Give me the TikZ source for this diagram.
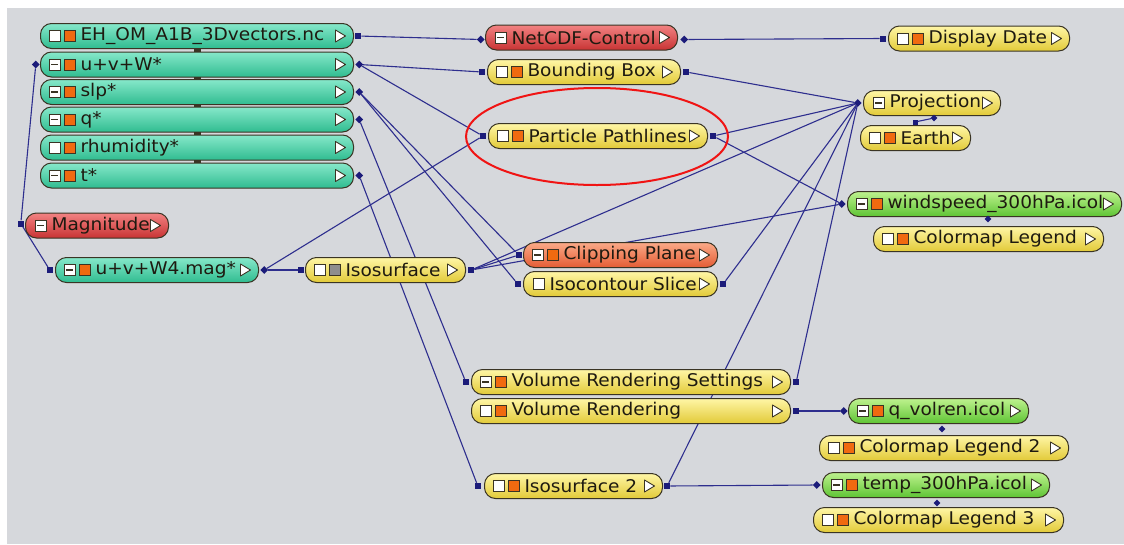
\documentclass[tikz,border=0pt]{standalone}
\usepackage{fontspec}
\newfontfamily\uifont[FakeStretch=1.06]{DejaVu Sans}
\usetikzlibrary{positioning, shapes.geometric, backgrounds}
\definecolor{canvas}{HTML}{D6D8DC}
\definecolor{wire}{HTML}{2E2E8E}
\definecolor{portblue}{HTML}{1C1C7A}
\definecolor{rim}{HTML}{3A3424}
\definecolor{inkdark}{HTML}{1E1A10}
\definecolor{iconorange}{HTML}{F06A10}
\definecolor{icongray}{HTML}{8E8E8E}
\definecolor{tealtop}{HTML}{86E8CA}
\definecolor{tealbot}{HTML}{30BC90}
\definecolor{yeltop}{HTML}{FFF6A6}
\definecolor{yelbot}{HTML}{E2CA38}
\definecolor{redtop}{HTML}{F28282}
\definecolor{redbot}{HTML}{C83434}
\definecolor{clptop}{HTML}{FAAA88}
\definecolor{clpbot}{HTML}{E45C34}
\definecolor{grntop}{HTML}{BEF28E}
\definecolor{grnbot}{HTML}{5EC434}
\definecolor{ringred}{HTML}{F01414}

% small glyphs drawn inside a module box
\newcommand{\sqicon}[2]{\draw[sharp corners, fill=#2, draw=rim, line width=0.9pt]
  ([xshift=#1pt]path picture bounding box.west) ++(-5.5,-5.5) rectangle ++(11,11);}
\newcommand{\minusicon}[1]{\sqicon{#1}{white}
  \draw[sharp corners, rim, line width=1.2pt] ([xshift=#1pt]path picture bounding box.west) ++(-3.5,0) -- ++(7,0);}
\newcommand{\playicon}{\draw[sharp corners, fill=white, draw=rim, line width=0.9pt, line join=round]
  ([xshift=-18pt]path picture bounding box.east) ++(0,-6) -- ++(10,6) -- ++(-10,6) -- cycle;}

\begin{document}
\begin{tikzpicture}[
    x=1pt, y=-1pt,
    box/.style={rectangle, rounded corners=11pt, draw=rim, line width=1pt, anchor=west,
                minimum height=25pt, inner xsep=0pt, inner ysep=0pt, align=left,
                text=inkdark, font=\uifont\fontsize{17.5}{20}\selectfont},
    tealbox/.style={box, top color=tealtop, bottom color=tealbot},
    yelbox/.style={box, top color=yeltop, bottom color=yelbot},
    redbox/.style={box, top color=redtop, bottom color=redbot},
    clpbox/.style={box, top color=clptop, bottom color=clpbot},
    grnbox/.style={box, top color=grntop, bottom color=grnbot},
    iconWO/.style={path picture={\sqicon{14}{white}\sqicon{29}{iconorange}\playicon},
                   execute at begin node={\hspace*{40pt}}},
    iconMO/.style={path picture={\minusicon{14}\sqicon{29}{iconorange}\playicon},
                   execute at begin node={\hspace*{40pt}}},
    iconWG/.style={path picture={\sqicon{14}{white}\sqicon{29}{icongray}\playicon},
                   execute at begin node={\hspace*{40pt}}},
    iconM/.style={path picture={\minusicon{15}\playicon},
                  execute at begin node={\hspace*{26pt}}},
    iconW/.style={path picture={\sqicon{15}{white}\playicon},
                  execute at begin node={\hspace*{26pt}}},
    sq/.style={rectangle, fill=portblue, minimum size=6pt, inner sep=0pt},
    dia/.style={diamond, fill=portblue, minimum size=8pt, inner sep=0pt},
    tab/.style={rectangle, fill=rim, minimum width=7pt, minimum height=3pt, inner sep=0pt},
    wire/.style={draw=wire, line width=1.1pt},
  ]
  \useasboundingbox (0,0) rectangle (1124,544);

  % data sources
  \node[tealbox, iconWO, text width=313pt] (eh) at (40,36) {EH\_OM\_A1B\_3Dvectors.nc};
  \node[tealbox, iconMO, text width=313pt] (uvw) at (40,64.5) {u+v+W*};
  \node[tealbox, iconMO, text width=313pt] (slp) at (40,92) {slp*};
  \node[tealbox, iconMO, text width=313pt] (qq) at (40,119.5) {q*};
  \node[tealbox, iconWO, text width=313pt] (rhum) at (40,147.5) {rhumidity*};
  \node[tealbox, iconMO, text width=313pt] (tt) at (40,175.5) {t*};
  \foreach \a/\b in {eh/uvw, uvw/slp, slp/qq, qq/rhum, rhum/tt}
    \path (\a.south) -- (\b.north) node[midway, tab, name=tab\a] {};

  \node[redbox, iconM, text width=143pt] (mag) at (25,225.5) {Magnitude};
  \node[tealbox, iconMO, text width=203pt] (uvwmag) at (55,270) {u+v+W4.mag*};
  \node[yelbox, iconWG, text width=160pt] (iso) at (305,270) {Isosurface};

  % middle column
  \node[redbox, iconM, text width=192pt] (netcdf) at (485,37.5) {NetCDF-Control};
  \node[yelbox, iconWO, text width=193pt] (bbox) at (487,72) {Bounding Box};
  \node[yelbox, iconWO, text width=219pt] (pathl) at (488,136) {Particle Pathlines};
  \node[clpbox, iconMO, text width=194pt] (clip) at (523,255) {Clipping Plane};
  \node[yelbox, iconW, text width=194pt] (isoc) at (523,284) {Isocontour Slice};
  \node[yelbox, iconMO, text width=319pt] (vrs) at (471,382) {Volume Rendering Settings};
  \node[yelbox, iconWO, text width=319pt] (vr) at (471,411) {Volume Rendering};
  \node[yelbox, iconWO, text width=178pt] (iso2) at (484,486) {Isosurface 2};

  % right column
  \node[yelbox, iconWO, text width=181pt] (date) at (888,38.5) {Display Date};
  \node[yelbox, iconM, text width=137pt] (proj) at (863,103) {Projection};
  \node[yelbox, iconWO, text width=110pt] (earth) at (860,138) {Earth};
  \node[grnbox, iconMO, text width=274pt] (wind) at (847,204) {windspeed\_300hPa.icol};
  \node[yelbox, iconWO, text width=230pt] (cmap) at (873,239) {Colormap Legend};
  \node[grnbox, iconMO, text width=180pt] (qvol) at (848,411) {q\_volren.icol};
  \node[yelbox, iconWO, text width=249pt] (cmap2) at (819,448) {Colormap Legend 2};
  \node[grnbox, iconMO, text width=227pt] (temp) at (822,485) {temp\_300hPa.icol};
  \node[yelbox, iconWO, text width=250pt] (cmap3) at (813,520) {Colormap Legend 3};

  % ports
  \node[sq, right=1pt of eh] (ehR) {};
  \node[dia, right=1pt of uvw] (uvwR) {};
  \node[dia, left=0pt of uvw] (uvwL) {};
  \node[dia, right=1pt of slp] (slpR) {};
  \node[dia, right=1pt of qq] (qqR) {};
  \node[dia, right=1pt of tt] (ttR) {};
  \node[sq, left=1pt of mag, yshift=2pt] (magL) {};
  \node[sq, left=2pt of uvwmag] (uvwmagL) {};
  \node[dia, right=1pt of uvwmag] (uvwmagR) {};
  \node[sq, left=1pt of iso] (isoL) {};
  \node[sq, right=2pt of iso] (isoR) {};
  \node[dia, left=0pt of netcdf, yshift=-2pt] (netL) {};
  \node[dia, right=2pt of netcdf, yshift=-2pt] (netR) {};
  \node[sq, left=2pt of bbox] (bboxL) {};
  \node[sq, right=2pt of bbox] (bboxR) {};
  \node[sq, left=2pt of pathl] (pathlL) {};
  \node[sq, right=2pt of pathl] (pathlR) {};
  \node[sq, left=1pt of clip] (clipL) {};
  \node[sq, left=2pt of isoc] (isocL) {};
  \node[sq, right=2pt of isoc] (isocR) {};
  \node[sq, left=2pt of vrs] (vrsL) {};
  \node[sq, right=2pt of vrs] (vrsR) {};
  \node[sq, right=2pt of vr] (vrR) {};
  \node[sq, left=3pt of iso2] (iso2L) {};
  \node[sq, right=1pt of iso2] (iso2R) {};
  \node[sq, left=2pt of date] (dateL) {};
  \node[dia, left=1pt of proj] (projL) {};
  \node[dia, left=1pt of wind] (windL) {};
  \node[dia, left=0pt of qvol] (qvolL) {};
  \node[dia, left=1pt of temp] (tempL) {};

  % stacked links
  \node[sq, minimum size=5pt] (pe1) at (915,122) {};
  \node[dia, minimum size=7pt] (pe2) at (934,118) {};
  \draw[wire] (pe1) -- (pe2);
  \node[dia, minimum size=7pt] (wc) at (988,219) {};
  \node[dia, minimum size=7pt] (qc) at (942,429) {};
  \node[dia, minimum size=7pt] (tc) at (937,503) {};

  \node[ellipse, draw=ringred, line width=2pt, minimum width=262pt, minimum height=97pt]
    (focus) at (597,136.5) {};

  \begin{scope}[on background layer]
    \fill[canvas] (7,8) rectangle (1124,544);
    \draw[wire] (ehR) -- (netL);
    \draw[wire] (netR) -- (dateL);
    \draw[wire] (uvwR) -- (bboxL);
    \draw[wire] (uvwR) -- (pathlL);
    \draw[wire] (uvwL) -- (magL);
    \draw[wire] (magL) -- (uvwmagL);
    \draw[wire] (uvwmagR) -- (isoL);
    \draw[wire] (uvwmagR) -- (pathlL);
    \draw[wire] (slpR) -- (clipL);
    \draw[wire] (slpR) -- (isocL);
    \draw[wire] (qqR) -- (vrsL);
    \draw[wire] (ttR) -- (iso2L);
    \draw[wire] (isoR) -- (clipL);
    \draw[wire] (isoR) -- (windL);
    \draw[wire] (isoR) -- (projL);
    \draw[wire] (bboxR) -- (projL);
    \draw[wire] (pathlR) -- (projL);
    \draw[wire] (pathlR) -- (windL);
    \draw[wire] (isocR) -- (projL);
    \draw[wire] (vrsR) -- (projL);
    \draw[wire] (iso2R) -- (projL);
    \draw[wire] (vrR) -- (qvolL);
    \draw[wire] (iso2R) -- (tempL);
  \end{scope}
\end{tikzpicture}
\end{document}
